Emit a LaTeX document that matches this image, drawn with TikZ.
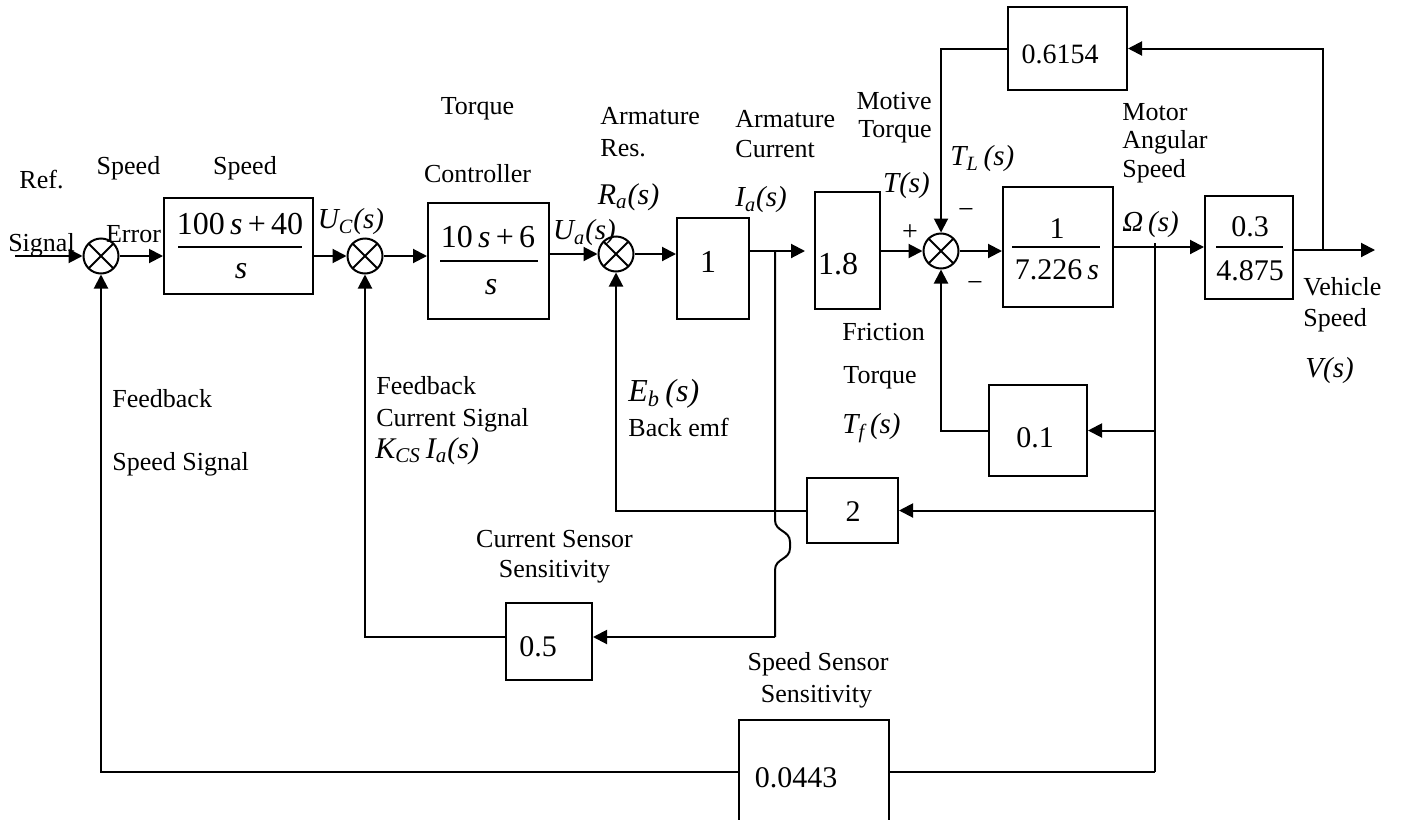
\documentclass[tikz,border=0pt]{standalone}
\usepackage{fontspec}
\setmainfont{Liberation Serif}
\usetikzlibrary{arrows.meta}
\tikzset{
  blk/.style={draw, rectangle, inner sep=0pt, line width=1pt},
  sumj/.style={draw, circle, minimum size=17.5pt, inner sep=0pt, line width=1pt,
    path picture={\draw[line width=1pt] (path picture bounding box.north west) -- (path picture bounding box.south east)
      (path picture bounding box.north east) -- (path picture bounding box.south west);}},
  lbl/.style={inner sep=0pt, font=\fontsize{13pt}{15pt}\selectfont},
  mlbl/.style={inner sep=0pt, font=\fontsize{14.5pt}{17pt}\selectfont\itshape},
  gtxt/.style={inner sep=0pt, font=\fontsize{15pt}{18pt}\selectfont},
  ftxt/.style={inner sep=0pt, font=\fontsize{16pt}{19pt}\selectfont},
  fbar/.style={line width=0.6pt},
  conn/.style={line width=1pt},
  arr/.style={conn, -{Triangle[length=7pt,width=7pt]}},
}
\begin{document}
\begin{tikzpicture}[x=0.5pt,y=-0.5pt]
\useasboundingbox (0,0) rectangle (1411,819);

% summing junctions
\node[sumj] (J1) at (101,256) {};
\node[sumj] (J2) at (365,256) {};
\node[sumj] (J3) at (616,254) {};
\node[sumj] (J4) at (941,251) {};

% blocks
\node[blk, minimum width=74.5pt, minimum height=48pt] (b1) at (238.5,246) {};
\node[blk, minimum width=60.5pt, minimum height=58pt] (b2) at (488.5,261) {};
\node[blk, minimum width=36pt, minimum height=50.5pt] (b3) at (713,268.5) {};
\node[blk, minimum width=32.5pt, minimum height=58.5pt] (b4) at (847.5,250.5) {};
\node[blk, minimum width=55pt, minimum height=60pt] (b5) at (1058,247) {};
\node[blk, minimum width=44pt, minimum height=51.5pt] (b6) at (1249,247.5) {};
\node[blk, minimum width=59.5pt, minimum height=41.5pt] (b7) at (1067.5,48.5) {};
\node[blk, minimum width=49pt, minimum height=45.5pt] (b8) at (1038,430.5) {};
\node[blk, minimum width=45.5pt, minimum height=32.5pt] (b9) at (852.5,510.5) {};
\node[blk, minimum width=43pt, minimum height=38.5pt] (b10) at (549,641.5) {};
\node[inner sep=0pt, minimum width=75pt, minimum height=55pt] (b11) at (814,775) {};
\draw[conn] (b11.south west) -- (b11.north west) -- (b11.north east) -- (b11.south east);

% block contents
\node[ftxt] (n1) at (240,224) {100\,\textit{s}\,+\,40};
\node[ftxt] (d1) at (241,271.5) {\textit{s}};
\draw[fbar] (178,247) -- (302,247);
\node[ftxt] (n2) at (488,237) {10\,\textit{s}\,+\,6};
\node[ftxt] (d2) at (491,287) {\textit{s}};
\draw[fbar] (440,261) -- (538,261);
\node[ftxt] (g3) at (708,262) {1};
\node[ftxt] (g4) at (838,264) {1.8};
\node[gtxt] (n5) at (1057,228.5) {1};
\node[gtxt] (d5) at (1057,270) {7.226\,\textit{s}};
\draw[fbar] (1012,247) -- (1100,247);
\node[gtxt] (n6) at (1250,227) {0.3};
\node[gtxt] (d6) at (1250,271) {4.875};
\draw[fbar] (1216,247) -- (1283,247);
\node[inner sep=0pt, font=\fontsize{14pt}{17pt}\selectfont] (g7) at (1060,54) {0.6154};
\node[gtxt] (g8) at (1035,438) {0.1};
\node[gtxt] (g9) at (853,512) {2};
\node[gtxt] (g10) at (538,647) {0.5};
\node[gtxt] (g11) at (796,778) {0.0443};

% coordinates
\coordinate (in) at (15,256);
\coordinate (out) at (1375,250);
\coordinate (br1) at (1323,250);
\coordinate (om) at (1155,243);
\coordinate (sb) at (1155,772);
\coordinate (ia) at (775,251);
\coordinate (ib) at (775,637);

% forward path
\draw[arr] (in) -- (J1.west);
\draw[arr] (J1.east) -- (J1.east -| b1.west);
\draw[arr] (J2.west -| b1.east) -- (J2.west);
\draw[arr] (J2.east) -- (J2.east -| b2.west);
\draw[arr] (J3.west -| b2.east) -- (J3.west);
\draw[arr] (J3.east) -- (J3.east -| b3.west);
\draw[arr, shorten >=4.5pt] (J4 -| b3.east) -- (J4 -| b4.west);
\draw[arr] (J4.west -| b4.east) -- (J4.west);
\draw[arr] (J4.east) -- (J4.east -| b5.west);
\draw[arr] (b5.east) -- (b5.east -| b6.west);
\draw[arr] (out -| b6.east) -- (out);

% feedback paths
\draw[arr] (br1) |- (b7.east);
\draw[arr] (b7.west) -| (J4.north);
\draw[conn] (om) -- (sb);
\draw[arr] (om |- b8.east) -- (b8.east);
\draw[arr] (b8.west) -| (J4.south);
\draw[arr] (om |- b9.east) -- (b9.east);
\draw[arr] (b9.west) -| (J3.south);
\draw[conn] (ia) -- (775,520) .. controls (775,532) and (790,530) .. (790,542) -- (790,548)
  .. controls (790,560) and (775,558) .. (775,570) -- (ib);
\draw[arr] (ib) -- (ib -| b10.east);
\draw[arr] (ib -| b10.west) -| (J2.south);
\draw[conn] (sb) -- (sb -| b11.east);
\draw[arr] (sb -| b11.west) -| (J1.south);

% text labels
\node[lbl] (ref) at (41.5,179.5) {Ref.};
\node[lbl] (sig) at (41.5,245) {Signal};
\node[lbl] (spd1) at (128.5,168) {Speed};
\node[lbl] (spd2) at (245,168) {Speed};
\node[lbl] (err) at (133.5,234) {Error};
\node[lbl] (trq1) at (477.5,109) {Torque};
\node[lbl] (ctl) at (477.5,174) {Controller};
\node[lbl, anchor=west] (arm1) at (600,116.5) {Armature};
\node[lbl, anchor=west] (res) at (600,148) {Res.};
\node[lbl, anchor=west] (arm2) at (735,119) {Armature};
\node[lbl, anchor=west] (cur) at (735,149) {Current};
\node[lbl, anchor=east] (mot) at (932,101) {Motive};
\node[lbl, anchor=east] (trq2) at (932,132) {Torque};
\node[lbl, anchor=west] (motor) at (1122,112) {Motor};
\node[lbl, anchor=west] (ang) at (1122,142) {Angular};
\node[lbl, anchor=west] (spd3) at (1122,171) {Speed};
\node[lbl, anchor=west] (veh) at (1303,287) {Vehicle};
\node[lbl, anchor=west] (spd4) at (1303,320) {Speed};
\node[lbl, anchor=west] (fri) at (842,332) {Friction};
\node[lbl, anchor=west] (trq3) at (843,378) {Torque};
\node[lbl, anchor=west] (bemf) at (628,427) {Back emf};
\node[lbl, anchor=west] (fb1) at (112,399) {Feedback};
\node[lbl, anchor=west] (ssig) at (112,464) {Speed Signal};
\node[lbl, anchor=west] (fb2) at (376,386) {Feedback};
\node[lbl, anchor=west] (csig) at (376,420) {Current Signal};
\node[lbl] (csen) at (554.5,539) {Current Sensor};
\node[lbl] (sens1) at (554.5,572) {Sensitivity};
\node[lbl] (ssen) at (818,664) {Speed Sensor};
\node[lbl] (sens2) at (816.5,697) {Sensitivity};

% signal labels
\node[mlbl] (uc) at (351,222) {U\textsubscript{C}(s)};
\node[mlbl] (ua) at (584.5,233) {U\textsubscript{a}(s)};
\node[mlbl, font=\fontsize{15pt}{18pt}\selectfont\itshape] (ra) at (628.5,197) {R\textsubscript{a}(s)};
\node[mlbl, anchor=west] (ial) at (735,200) {I\textsubscript{a}(s)};
\node[mlbl] (ts) at (906.5,186) {T(s)};
\node[mlbl, anchor=west] (tl) at (950,159) {T\textsubscript{L}\,(s)};
\node[mlbl, anchor=west] (omg) at (1122,225) {Ω\,(s)};
\node[mlbl, anchor=west] (vs) at (1305,371) {V(s)};
\node[mlbl, anchor=west] (tf) at (842,428) {T\textsubscript{f}\,(s)};
\node[mlbl, anchor=west, font=\fontsize{16pt}{19pt}\selectfont\itshape] (eb) at (628,394) {E\textsubscript{b}\,(s)};
\node[mlbl, anchor=west, font=\fontsize{15pt}{18pt}\selectfont\itshape] (kcs) at (375,451) {K\textsubscript{CS}\,I\textsubscript{a}(s)};

% signs
\node[inner sep=0pt, font=\fontsize{14pt}{17pt}\selectfont] (plus) at (910,233) {+};
\node[inner sep=0pt, font=\fontsize{14pt}{17pt}\selectfont] (mi1) at (966,213) {−};
\node[inner sep=0pt, font=\fontsize{14pt}{17pt}\selectfont] (mi2) at (975,286) {−};
\end{tikzpicture}
\end{document}
